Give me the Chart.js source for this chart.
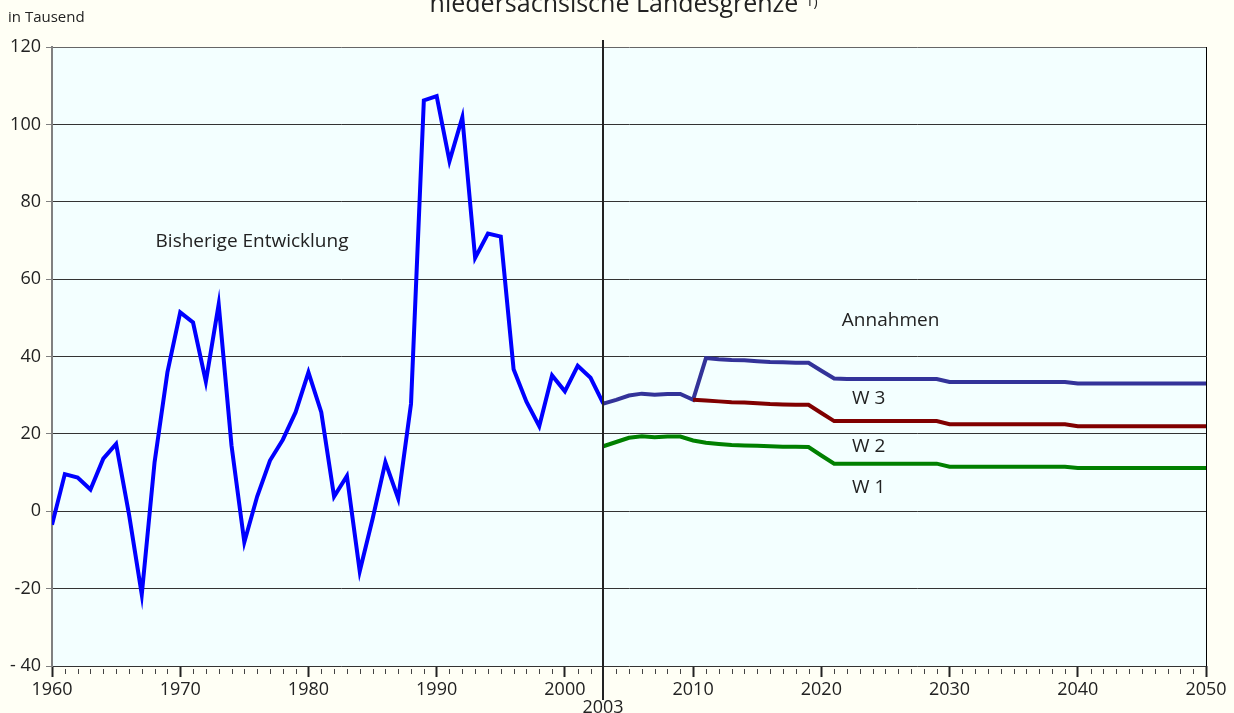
<!DOCTYPE html>
<html>
<head>
<meta charset="utf-8">
<script src="https://cdn.jsdelivr.net/npm/chart.js@4.4.1/dist/chart.umd.min.js"></script>
<style>
  html, body { margin: 0; padding: 0; background: #FFFFF5; }
  #wrap { width: 1234px; height: 713px; position: relative; }
</style>
</head>
<body>
<div id="wrap"><canvas id="chart" width="1234" height="713"></canvas></div>
<script>
"use strict"

// Wanderungssaldo ueber die niedersaechsische Landesgrenze, in Tausend

// bisherige Entwicklung 1960 - 2003
const histYears = [
    1960, 1961, 1962, 1963, 1964, 1965, 1966, 1967, 1968, 1969,
    1970, 1971, 1972, 1973, 1974, 1975, 1976, 1977, 1978, 1979,
    1980, 1981, 1982, 1983, 1984, 1985, 1986, 1987, 1988, 1989,
    1990, 1991, 1992, 1993, 1994, 1995, 1996, 1997, 1998, 1999,
    2000, 2001, 2002, 2003
];
const histValues = [
    -3.5, 9.6, 8.7, 5.6, 13.6, 17.4, -0.7, -21.5, 12.7, 35.9,
    51.4, 48.8, 33.5, 53.5, 17, -8, 3.8, 13.1, 18.5, 25.6,
    35.9, 25.6, 3.8, 9.1, -15.5, -2, 12.7, 3.3, 27.8, 106.2,
    107.3, 90.5, 101.8, 65.5, 71.8, 71, 36.7, 28.3, 22, 35.1,
    31, 37.6, 34.5, 27.8
];

// Annahmen 2003 - 2050
const projYears = [
    2003, 2004, 2005, 2006, 2007, 2008, 2009, 2010, 2011, 2012,
    2013, 2014, 2015, 2016, 2017, 2018, 2019, 2020, 2021, 2022,
    2023, 2024, 2025, 2026, 2027, 2028, 2029, 2030, 2031, 2032,
    2033, 2034, 2035, 2036, 2037, 2038, 2039, 2040, 2041, 2042,
    2043, 2044, 2045, 2046, 2047, 2048, 2049, 2050
];
const w3Values = [
    27.8, 28.8, 29.9, 30.4, 30.1, 30.3, 30.3, 28.8, 39.6, 39.3,
    39.1, 39.0, 38.8, 38.6, 38.5, 38.4, 38.4, 36.3, 34.3, 34.2,
    34.2, 34.2, 34.2, 34.2, 34.2, 34.2, 34.2, 33.4, 33.4, 33.4,
    33.4, 33.4, 33.4, 33.4, 33.4, 33.4, 33.4, 33.0, 33.0, 33.0,
    33.0, 33.0, 33.0, 33.0, 33.0, 33.0, 33.0, 33.0
];
// W 2 zweigt erst 2010 von W 3 ab
const w2Years = [
    2010, 2011, 2012, 2013, 2014, 2015, 2016, 2017, 2018, 2019,
    2020, 2021, 2022, 2023, 2024, 2025, 2026, 2027, 2028, 2029,
    2030, 2031, 2032, 2033, 2034, 2035, 2036, 2037, 2038, 2039,
    2040, 2041, 2042, 2043, 2044, 2045, 2046, 2047, 2048, 2049, 2050
];
const w2Values = [
    28.8, 28.6, 28.4, 28.2, 28.1, 27.9, 27.7, 27.6, 27.5, 27.5,
    25.4, 23.3, 23.3, 23.3, 23.3, 23.3, 23.3, 23.3, 23.3, 23.3,
    22.5, 22.5, 22.5, 22.5, 22.5, 22.5, 22.5, 22.5, 22.5, 22.5,
    22.0, 22.0, 22.0, 22.0, 22.0, 22.0, 22.0, 22.0, 22.0, 22.0, 22.0
];
const w1Values = [
    16.8, 17.9, 19.0, 19.4, 19.1, 19.3, 19.3, 18.3, 17.7, 17.4,
    17.1, 17.0, 16.9, 16.8, 16.7, 16.65, 16.6, 14.4, 12.3, 12.3,
    12.3, 12.3, 12.3, 12.3, 12.3, 12.3, 12.3, 11.5, 11.5, 11.5,
    11.5, 11.5, 11.5, 11.5, 11.5, 11.5, 11.5, 11.2, 11.2, 11.2,
    11.2, 11.2, 11.2, 11.2, 11.2, 11.2, 11.2, 11.2
];

const yTicks = [-40, -20, 0, 20, 40, 60, 80, 100, 120];
const xTicks = [1960, 1970, 1980, 1990, 2000, 2010, 2020, 2030, 2040, 2050];
const cutYear = 2003;

const titleText = "niedersächsische Landesgrenze";
const unitText = "in Tausend";

// text labels inside the plot, placed in data units
const plotLabels = [
    { text: "Bisherige Entwicklung", x: 1975.6, y: 69.8 },
    { text: "Annahmen", x: 2025.4, y: 49.4 },
    { text: "W 3", x: 2023.7, y: 29.2 },
    { text: "W 2", x: 2023.7, y: 16.6 },
    { text: "W 1", x: 2023.7, y: 6.0 }
];

const FONT = "'Open Sans', 'Noto Sans', sans-serif";

const toPoints = (xs, ys) => xs.map((x, i) => ({ x: x, y: ys[i] }));


// background, frame, minor ticks, 2003 line and texts
const decoPlugin = {
    id: "deco",
    beforeDraw(chart) {
        const { ctx, chartArea: a } = chart;
        ctx.save();
        ctx.fillStyle = "#FFFFF5";
        ctx.fillRect(0, 0, chart.width, chart.height);
        ctx.fillStyle = "#F3FFFF";
        ctx.fillRect(a.left, a.top, a.right - a.left, a.bottom - a.top);
        ctx.restore();
    },
    afterDatasetsDraw(chart) {
        const { ctx, chartArea: a } = chart;
        const xs = chart.scales.x;
        const ys = chart.scales.y;
        ctx.save();

        // right frame
        ctx.strokeStyle = "#000";
        ctx.lineWidth = 1;
        ctx.beginPath();
        ctx.moveTo(a.right + 0.5, a.top);
        ctx.lineTo(a.right + 0.5, a.bottom);
        ctx.stroke();

        // minor year ticks
        ctx.strokeStyle = "#444";
        for (let yr = xs.min; yr <= xs.max; yr++) {
            if (yr % 10 === 0) continue;
            const px = Math.round(xs.getPixelForValue(yr)) + 0.5;
            ctx.beginPath();
            ctx.moveTo(px, a.bottom + 3);
            ctx.lineTo(px, a.bottom + 8);
            ctx.stroke();
        }

        // separator at 2003
        const cx = Math.round(xs.getPixelForValue(cutYear));
        ctx.strokeStyle = "#222";
        ctx.lineWidth = 2;
        ctx.beginPath();
        ctx.moveTo(cx, 40);
        ctx.lineTo(cx, 700);
        ctx.stroke();

        ctx.fillStyle = "#222";
        ctx.font = "18px " + FONT;
        ctx.textAlign = "center";
        ctx.textBaseline = "top";
        ctx.fillText(String(cutYear), cx, 699);

        // labels in the plot
        ctx.fillStyle = "#222";
        ctx.font = "19px " + FONT;
        ctx.textBaseline = "middle";
        plotLabels.forEach(l => {
            ctx.fillText(l.text, xs.getPixelForValue(l.x), ys.getPixelForValue(l.y));
        });

        // unit
        ctx.textAlign = "left";
        ctx.font = "15px " + FONT;
        ctx.fillText(unitText, 8, 18);

        // title, cut off at the top like the original
        ctx.textAlign = "center";
        ctx.textBaseline = "alphabetic";
        ctx.font = "25px " + FONT;
        ctx.fillText(titleText, 614, 12);
        const tw = ctx.measureText(titleText).width;
        ctx.font = "14px " + FONT;
        ctx.textAlign = "left";
        ctx.fillText("1)", 614 + tw / 2 + 7, 6);

        ctx.restore();
    }
};


const ctx = document.getElementById("chart");

new Chart(ctx, {
    type: "line",
    data: {
        datasets: [
            {
                label: "W 1",
                data: toPoints(projYears, w1Values),
                borderColor: "#008000",
                borderWidth: 4
            },
            {
                label: "W 2",
                data: toPoints(w2Years, w2Values),
                borderColor: "#800000",
                borderWidth: 4
            },
            {
                label: "W 3",
                data: toPoints(projYears, w3Values),
                borderColor: "#333399",
                borderWidth: 4
            },
            {
                label: "Bisherige Entwicklung",
                data: toPoints(histYears, histValues),
                borderColor: "#0000FF",
                borderWidth: 4
            }
        ]
    },
    options: {
        responsive: false,
        animation: false,
        layout: { padding: { top: 47, right: 28, left: 0, bottom: 0 } },
        elements: {
            point: { radius: 0 },
            line: { tension: 0, borderJoinStyle: "miter", borderCapStyle: "butt" }
        },
        plugins: {
            legend: { display: false },
            tooltip: { enabled: false }
        },
        scales: {
            x: {
                type: "linear",
                min: 1960,
                max: 2050,
                afterFit: s => { s.height = 47; },
                afterBuildTicks: s => { s.ticks = xTicks.map(v => ({ value: v })); },
                ticks: {
                    color: "#222",
                    font: { family: FONT, size: 18 },
                    padding: 2,
                    maxRotation: 0,
                    autoSkip: false,
                    callback: v => String(v)
                },
                grid: {
                    drawOnChartArea: false,
                    drawTicks: true,
                    tickLength: 11,
                    tickWidth: 2,
                    tickColor: "#222"
                },
                border: { display: false }
            },
            y: {
                min: -40,
                max: 120,
                afterFit: s => { s.width = 52; },
                afterBuildTicks: s => { s.ticks = yTicks.map(v => ({ value: v })); },
                ticks: {
                    color: "#222",
                    font: { family: FONT, size: 18 },
                    padding: 5,
                    callback: v => v === -40 ? "- 40" : String(v)
                },
                grid: {
                    color: ctx => ctx.tick && ctx.tick.value === 120 ? "#666" : "#333",
                    lineWidth: 1,
                    tickLength: 6,
                    tickColor: "#808080"
                },
                border: { display: true, color: "#808080", width: 2 }
            }
        }
    },
    plugins: [decoPlugin]
});
</script>
</body>
</html>
